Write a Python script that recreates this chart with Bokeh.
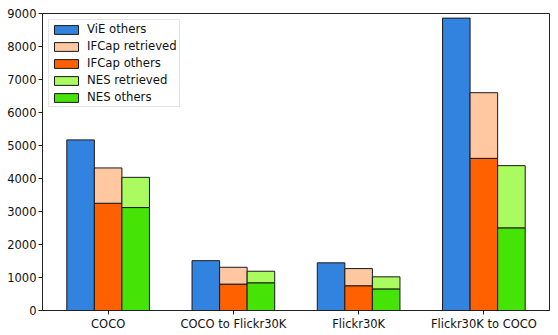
from bokeh.plotting import figure
from bokeh.models import FactorRange, Legend, LegendItem, FixedTicker
from bokeh.transform import dodge
from bokeh.embed import file_html
from bokeh.resources import INLINE

categories = ["COCO", "COCO to Flickr30K", "Flickr30K", "Flickr30K to COCO"]
vie_others = [5170, 1510, 1445, 8860]
ifcap_others = [3250, 800, 750, 4610]
ifcap_retrieved = [1070, 510, 520, 1990]
nes_others = [3120, 840, 655, 2505]
nes_retrieved = [915, 350, 365, 1885]
y_ticks = [0, 1000, 2000, 3000, 4000, 5000, 6000, 7000, 8000, 9000]

C_VIE = "#3282DF"
C_IF_RET = "#FFC8A0"
C_IF_OTH = "#FF6000"
C_NES_RET = "#AAFB60"
C_NES_OTH = "#46E306"
EDGE = "#1a1a1a"

data = dict(
    cat=categories,
    vie=vie_others,
    if_oth=ifcap_others,
    if_tot=[a + b for a, b in zip(ifcap_others, ifcap_retrieved)],
    nes_oth=nes_others,
    nes_tot=[a + b for a, b in zip(nes_others, nes_retrieved)],
)

p = figure(
    x_range=FactorRange(*categories, range_padding=0.024, range_padding_units="absolute"),
    y_range=(0, 9000),
    width=558, height=335,
    output_backend="svg", toolbar_location=None,
    min_border_left=42, min_border_right=9, min_border_top=13, min_border_bottom=25,
)

W = 0.22
r_vie = p.vbar(x=dodge("cat", -W, range=p.x_range), top="vie", bottom=0, width=W,
               source=data, fill_color=C_VIE, line_color=EDGE, line_width=1)
r_if_oth = p.vbar(x=dodge("cat", 0, range=p.x_range), top="if_oth", bottom=0, width=W,
                  source=data, fill_color=C_IF_OTH, line_color=EDGE, line_width=1)
r_if_ret = p.vbar(x=dodge("cat", 0, range=p.x_range), top="if_tot", bottom="if_oth", width=W,
                  source=data, fill_color=C_IF_RET, line_color=EDGE, line_width=1)
r_nes_oth = p.vbar(x=dodge("cat", W, range=p.x_range), top="nes_oth", bottom=0, width=W,
                   source=data, fill_color=C_NES_OTH, line_color=EDGE, line_width=1)
r_nes_ret = p.vbar(x=dodge("cat", W, range=p.x_range), top="nes_tot", bottom="nes_oth", width=W,
                   source=data, fill_color=C_NES_RET, line_color=EDGE, line_width=1)

legend = Legend(items=[
    LegendItem(label="ViE others", renderers=[r_vie]),
    LegendItem(label="IFCap retrieved", renderers=[r_if_ret]),
    LegendItem(label="IFCap others", renderers=[r_if_oth]),
    LegendItem(label="NES retrieved", renderers=[r_nes_ret]),
    LegendItem(label="NES others", renderers=[r_nes_oth]),
], location="top_left")
legend.margin = 6
legend.padding = 2
legend.spacing = 3
legend.glyph_width = 30
legend.glyph_height = 11
legend.label_height = 12
legend.label_standoff = 6
legend.label_text_font = "DejaVu Sans"
legend.label_text_font_size = "11.7px"
legend.label_text_color = "#111111"
legend.border_line_color = "#cccccc"
legend.border_line_width = 1
legend.background_fill_alpha = 0.8
p.add_layout(legend)

p.xgrid.visible = False
p.ygrid.visible = False
p.outline_line_color = "#222222"
p.outline_line_width = 1

p.yaxis.ticker = FixedTicker(ticks=y_ticks)
for ax in (p.xaxis[0], p.yaxis[0]):
    ax.major_label_text_font = "DejaVu Sans"
    ax.major_label_text_font_size = "11.5px"
    ax.major_label_text_color = "#111111"
    ax.major_tick_in = 0
    ax.major_tick_out = 4
    ax.minor_tick_in = 0
    ax.minor_tick_out = 0
    ax.major_label_standoff = 2
    ax.axis_line_color = "#222222"
    ax.major_tick_line_color = "#222222"
p.yaxis.formatter.use_scientific = False
p.xaxis.group_text_font_size = "11.5px"

open("out.html", "w").write(file_html(p, INLINE))
